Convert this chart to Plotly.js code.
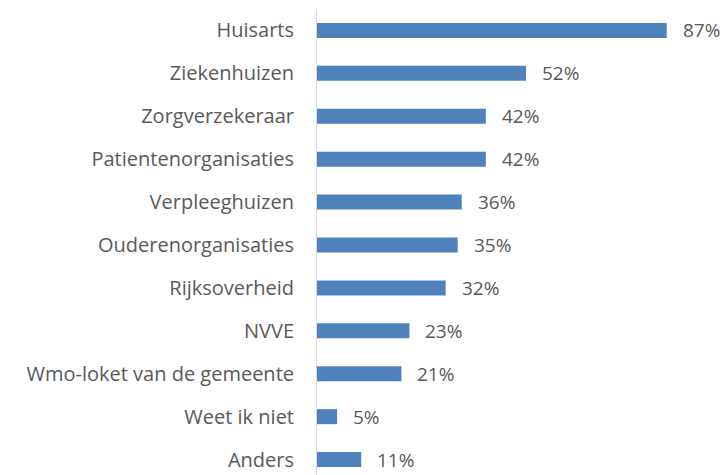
<!DOCTYPE html>
<html>
<head>
<meta charset="utf-8">
<script src="https://cdn.plot.ly/plotly-3.0.1.min.js"></script>
<style>html,body{margin:0;padding:0;background:#fff;}#chart{width:727px;height:475px;}</style>
</head>
<body>
<div id="chart"></div>
<script>
const categories = ["Huisarts","Ziekenhuizen","Zorgverzekeraar","Patientenorganisaties","Verpleeghuizen","Ouderenorganisaties","Rijksoverheid","NVVE","Wmo-loket van de gemeente","Weet ik niet","Anders"];
const values = [87,52,42,42,36,35,32,23,21,5,11];
const valueLabels = values.map(v => v + "%");

const FONT = "'Open Sans', sans-serif";
const TXT = "#595959";
const FS = 20;

const trace = {
  type: "bar",
  orientation: "h",
  x: values,
  y: categories,
  marker: {color: "#4f81bd"},
  hoverinfo: "none"
};

const annotations = values.map((v, i) => ({
  x: v, y: categories[i], xref: "x", yref: "y",
  text: valueLabels[i], showarrow: false,
  xanchor: "left", yanchor: "middle", xshift: 14,
  font: {family: FONT, size: 19, color: TXT}
}));

const layout = {
  width: 727, height: 475,
  margin: {l: 317, r: 0, t: 9, b: 0},
  paper_bgcolor: "#fff", plot_bgcolor: "#fff",
  showlegend: false,
  bargap: 0.65,
  font: {family: FONT, size: FS, color: TXT},
  xaxis: {range: [0, 102], visible: false, fixedrange: true},
  yaxis: {
    type: "category",
    categoryorder: "array", categoryarray: categories,
    range: [10.36, -0.5],
    showline: true, linecolor: "#d9d9d9", linewidth: 1,
    ticks: "", ticklabelstandoff: 18,
    showgrid: false, zeroline: false,
    tickfont: {family: FONT, size: FS, color: TXT}
  },
  annotations: annotations
};

Plotly.newPlot("chart", [trace], layout, {displayModeBar: false, staticPlot: true});
</script>
</body>
</html>
